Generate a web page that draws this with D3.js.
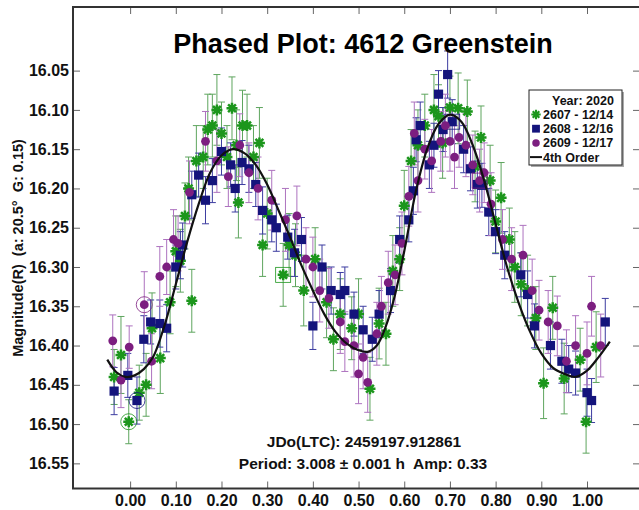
<!DOCTYPE html>
<html>
<head>
<meta charset="utf-8">
<script src="https://cdnjs.cloudflare.com/ajax/libs/d3/7.8.5/d3.min.js"></script>
<style>
  body { margin: 0; background: #fff; }
  svg { display: block; font-family: "Liberation Sans", Arial, sans-serif; font-weight: bold; }
</style>
</head>
<body>
<svg width="639" height="510"></svg>
<script>
// data: [phase, magnitude, error, mark]  (mark: 'o' ringed, 's' boxed)
var green = [
  [-0.035,16.440,0.035],[-0.020,16.412,0.049],[-0.003,16.497,0.028,'o'],[0.020,16.460,0.035],
  [0.035,16.450,0.040],[0.048,16.378,0.045],[0.066,16.416,0.045],[0.0875,16.345,0.040],
  [0.100,16.280,0.045],[0.110,16.292,0.040],[0.120,16.235,0.042],[0.128,16.200,0.040],
  [0.135,16.343,0.040],[0.145,16.165,0.045],[0.160,16.160,0.040],[0.170,16.125,0.045],
  [0.180,16.120,0.040],[0.190,16.100,0.045],[0.200,16.130,0.040],[0.212,16.160,0.040],
  [0.223,16.098,0.040],[0.233,16.145,0.045],[0.237,16.218,0.045],[0.246,16.120,0.045],
  [0.256,16.120,0.040],[0.270,16.160,0.040],[0.283,16.142,0.045],[0.290,16.272,0.040],
  [0.300,16.232,0.045],[0.335,16.310,0.040,'s'],[0.348,16.272,0.040],[0.362,16.285,0.040],
  [0.380,16.330,0.045],[0.405,16.290,0.040],[0.430,16.345,0.045],[0.445,16.392,0.040],
  [0.460,16.360,0.045],[0.485,16.378,0.040],[0.500,16.360,0.045],[0.525,16.455,0.040],
  [0.545,16.372,0.045],[0.560,16.385,0.040],[0.575,16.305,0.045],[0.590,16.290,0.040],
  [0.600,16.222,0.045],[0.615,16.165,0.040],[0.630,16.145,0.045],[0.645,16.120,0.040],
  [0.665,16.100,0.045],[0.675,16.108,0.040],[0.684,16.142,0.045],[0.700,16.097,0.040],
  [0.718,16.098,0.045],[0.738,16.102,0.040],[0.755,16.172,0.045],[0.768,16.135,0.040],
  [0.788,16.190,0.045],[0.800,16.242,0.040],[0.812,16.212,0.045],[0.830,16.265,0.040],
  [0.842,16.300,0.045],[0.856,16.322,0.040],[0.870,16.330,0.045],[0.888,16.365,0.040],
  [0.905,16.448,0.045],[0.925,16.352,0.040],[0.950,16.442,0.045],[0.985,16.418,0.040],
  [0.998,16.497,0.040],[1.020,16.402,0.045]
];
var navy = [
  [-0.035,16.458,0.030],[-0.005,16.438,0.028],[0.015,16.470,0.030,'o'],[0.030,16.392,0.030],
  [0.045,16.370,0.028],[0.065,16.372,0.030],[0.080,16.378,0.030],[0.100,16.300,0.028],
  [0.110,16.285,0.030],[0.115,16.272,0.028],[0.135,16.208,0.030],[0.150,16.183,0.028],
  [0.165,16.215,0.030],[0.180,16.190,0.028],[0.200,16.153,0.030],[0.220,16.170,0.028],
  [0.230,16.200,0.030],[0.245,16.167,0.028],[0.260,16.175,0.030],[0.275,16.195,0.028],
  [0.290,16.228,0.030],[0.310,16.240,0.028],[0.320,16.250,0.030],[0.345,16.262,0.028],
  [0.360,16.282,0.030],[0.375,16.265,0.028],[0.400,16.375,0.030],[0.420,16.300,0.028],
  [0.440,16.330,0.030],[0.460,16.335,0.028],[0.470,16.330,0.030],[0.490,16.360,0.028],
  [0.510,16.380,0.030],[0.530,16.392,0.028],[0.545,16.360,0.030],[0.570,16.330,0.028],
  [0.590,16.265,0.030],[0.610,16.240,0.028],[0.620,16.203,0.030],[0.626,16.138,0.028],
  [0.635,16.120,0.030],[0.655,16.170,0.030],[0.665,16.145,0.028],[0.675,16.080,0.030],
  [0.685,16.125,0.028],[0.695,16.055,0.030],[0.705,16.115,0.028,'s'],[0.730,16.150,0.030],
  [0.745,16.175,0.028],[0.760,16.195,0.030],[0.770,16.196,0.028],[0.785,16.230,0.030],
  [0.800,16.255,0.028],[0.820,16.285,0.030],[0.855,16.310,0.028],[0.870,16.335,0.030],
  [0.885,16.375,0.028],[0.920,16.400,0.030],[0.945,16.420,0.028],[0.960,16.430,0.030],
  [0.975,16.435,0.028],[1.000,16.460,0.030],[1.010,16.470,0.028],[1.040,16.370,0.030]
];
var purple = [
  [-0.038,16.394,0.033],[-0.020,16.444,0.035],[-0.002,16.402,0.027],[0.031,16.348,0.042,'o'],
  [0.047,16.420,0.035],[0.065,16.312,0.038],[0.080,16.300,0.035],[0.095,16.265,0.038],
  [0.105,16.270,0.035],[0.130,16.205,0.040],[0.165,16.140,0.038],[0.190,16.165,0.040],
  [0.215,16.185,0.038],[0.240,16.145,0.040],[0.260,16.180,0.038],[0.280,16.200,0.040],
  [0.310,16.215,0.038],[0.340,16.240,0.040],[0.365,16.235,0.038],[0.385,16.290,0.040],
  [0.400,16.300,0.038],[0.415,16.330,0.040],[0.435,16.340,0.038],[0.460,16.370,0.040],
  [0.470,16.395,0.038],[0.490,16.400,0.040],[0.500,16.436,0.038],[0.510,16.415,0.040],
  [0.520,16.447,0.038],[0.540,16.385,0.040],[0.550,16.350,0.038],[0.565,16.320,0.040],
  [0.580,16.310,0.038],[0.595,16.270,0.040],[0.610,16.210,0.038],[0.622,16.130,0.040],
  [0.630,16.190,0.040],[0.645,16.150,0.038],[0.660,16.165,0.040],[0.680,16.140,0.038],
  [0.690,16.120,0.040],[0.700,16.140,0.038],[0.710,16.160,0.040],[0.720,16.135,0.038],
  [0.735,16.145,0.040],[0.750,16.170,0.038],[0.765,16.190,0.040,'s'],[0.775,16.180,0.038],
  [0.790,16.220,0.040],[0.815,16.265,0.038],[0.835,16.290,0.040],[0.860,16.285,0.038],
  [0.880,16.330,0.040],[0.895,16.355,0.038],[0.915,16.370,0.040],[0.935,16.375,0.038],
  [0.955,16.420,0.040],[0.975,16.400,0.038],[1.000,16.410,0.040],[1.010,16.350,0.038],
  [1.030,16.400,0.040]
];
// 4th order fit
var fit = [
  [-0.05,16.418],[-0.03,16.434],[-0.01,16.440],[0.01,16.438],[0.03,16.430],[0.05,16.415],
  [0.075,16.375],[0.10,16.322],[0.125,16.268],[0.15,16.220],[0.175,16.180],[0.20,16.158],
  [0.225,16.150],[0.25,16.155],[0.275,16.170],[0.30,16.195],[0.325,16.228],[0.35,16.262],
  [0.375,16.298],[0.40,16.330],[0.425,16.360],[0.45,16.383],[0.475,16.398],[0.50,16.406],
  [0.52,16.408],[0.54,16.400],[0.56,16.375],[0.58,16.335],[0.60,16.280],[0.625,16.205],
  [0.65,16.150],[0.675,16.118],[0.70,16.106],[0.725,16.115],[0.75,16.145],[0.775,16.190],
  [0.80,16.245],[0.825,16.300],[0.85,16.345],[0.875,16.382],[0.90,16.410],[0.925,16.428],
  [0.95,16.436],[0.975,16.440],[1.00,16.432],[1.025,16.415],[1.05,16.395]
];
var xTicks = d3.range(0, 11).map(function (i) { return i / 10; });
var yTicks = d3.range(0, 11).map(function (i) { return 16.05 + i * 0.05; });
var legendLabels = ["2607 - 12/14", "2608 - 12/16", "2609 - 12/17", "4th Order"];

var svg = d3.select("svg");
var plotL = 73, plotR = 640, plotT = 7, plotB = 488.5;

var x = d3.scaleLinear().domain([-0.125, 1.116]).range([plotL, plotR]);
var y = d3.scaleLinear().domain([15.969, 16.582]).range([plotT, plotB]);

var series = [
  { data: green, mark: "#1c961c", bar: "#5ea55e", shape: "star" },
  { data: navy, mark: "#14147c", bar: "#3c3ca0", shape: "square" },
  { data: purple, mark: "#7c1e80", bar: "#ad72bf", shape: "circle" }
];

var starPath = "M-5.5,0L5.5,0M0,-5.5L0,5.5M-3.9,-3.9L3.9,3.9M-3.9,3.9L3.9,-3.9";

function drawMark(g, shape, color) {
  if (shape == "star") {
    g.append("path").attr("d", starPath).attr("stroke", color).attr("stroke-width", 2.5).attr("fill", "none");
  } else if (shape == "square") {
    g.append("rect").attr("x", -4.6).attr("y", -4.6).attr("width", 9.2).attr("height", 9.2).attr("fill", color);
  } else {
    g.append("circle").attr("r", 4.4).attr("fill", color);
  }
}

// error bars first
series.forEach(function (s) {
  var eb = svg.append("g").attr("stroke", s.bar).attr("stroke-width", 1).attr("fill", "none");
  s.data.forEach(function (d) {
    var px = x(d[0]), y0 = y(d[1] - d[2]), y1 = y(d[1] + d[2]);
    eb.append("line").attr("x1", px).attr("x2", px).attr("y1", y0).attr("y2", y1);
    eb.append("line").attr("x1", px - 3.5).attr("x2", px + 3.5).attr("y1", y0).attr("y2", y0);
    eb.append("line").attr("x1", px - 3.5).attr("x2", px + 3.5).attr("y1", y1).attr("y2", y1);
  });
});

// markers
series.forEach(function (s) {
  s.data.forEach(function (d) {
    var g = svg.append("g").attr("transform", "translate(" + x(d[0]) + "," + y(d[1]) + ")");
    drawMark(g, s.shape, s.mark);
    if (d[3] == "o") {
      g.append("circle").attr("r", 8).attr("fill", "none").attr("stroke", s.mark).attr("stroke-width", 0.8);
    } else if (d[3] == "s") {
      g.append("rect").attr("x", -7.5).attr("y", -7.5).attr("width", 15).attr("height", 15)
        .attr("fill", "none").attr("stroke", s.mark).attr("stroke-width", 0.8);
    }
  });
});

// fit curve
svg.append("path")
  .datum(fit)
  .attr("fill", "none")
  .attr("stroke", "#111")
  .attr("stroke-width", 2.2)
  .attr("d", d3.line().curve(d3.curveCatmullRom)
    .x(function (d) { return x(d[0]); })
    .y(function (d) { return y(d[1]); }));

// axes (ticks inside the frame)
var fmt = d3.format(".2f");
svg.append("g")
  .attr("transform", "translate(" + plotL + ",0)")
  .call(d3.axisLeft(y).tickValues(yTicks).tickFormat(fmt).tickSize(-7).tickPadding(4))
  .call(function (g) { g.select(".domain").remove(); });
svg.append("g")
  .attr("transform", "translate(" + plotR + ",0)")
  .call(d3.axisRight(y).tickValues(yTicks).tickFormat("").tickSize(-7))
  .call(function (g) { g.select(".domain").remove(); });
svg.append("g")
  .attr("transform", "translate(0," + plotB + ")")
  .call(d3.axisBottom(x).tickValues(xTicks).tickFormat(fmt).tickSize(-7).tickPadding(6))
  .call(function (g) { g.select(".domain").remove(); });
svg.append("g")
  .attr("transform", "translate(0," + plotT + ")")
  .call(d3.axisTop(x).tickValues(xTicks).tickFormat("").tickSize(-7))
  .call(function (g) { g.select(".domain").remove(); });

svg.selectAll(".tick line").attr("stroke", "#666");
svg.selectAll(".tick text")
  .attr("font-family", "Liberation Sans, Arial, sans-serif")
  .attr("font-weight", "bold")
  .attr("font-size", "16px")
  .attr("fill", "#111");

// frame
svg.append("rect")
  .attr("x", plotL).attr("y", plotT)
  .attr("width", plotR - plotL).attr("height", plotB - plotT)
  .attr("fill", "none").attr("stroke", "#333").attr("stroke-width", 2);

// title and notes
svg.append("text").attr("x", 363).attr("y", 53)
  .attr("text-anchor", "middle").attr("font-size", "27px").attr("fill", "#000")
  .text("Phased Plot: 4612 Greenstein");
svg.append("text").attr("x", 364).attr("y", 447)
  .attr("text-anchor", "middle").attr("font-size", "15.5px").attr("fill", "#111")
  .text("JDo(LTC): 2459197.912861");
svg.append("text").attr("x", 363).attr("y", 469)
  .attr("text-anchor", "middle").attr("font-size", "15.5px").attr("fill", "#111")
  .attr("xml:space", "preserve")
  .text("Period: 3.008 \u00b1 0.001 h  Amp: 0.33");

svg.append("text")
  .attr("transform", "translate(23,248) rotate(-90)")
  .attr("text-anchor", "middle").attr("font-size", "14.5px").attr("fill", "#111")
  .attr("xml:space", "preserve")
  .text("Magnitude(R)  (a: 20.5\u00b0  G: 0.15)");

// legend
var lg = svg.append("g").attr("transform", "translate(529,90)");
lg.append("rect").attr("x", 2).attr("y", 2).attr("width", 93).attr("height", 75).attr("fill", "#aaa");
lg.append("rect").attr("width", 93).attr("height", 75).attr("fill", "#fff").attr("stroke", "#222").attr("stroke-width", 1);
lg.append("text").attr("x", 23).attr("y", 15).attr("font-size", "12.5px").attr("fill", "#111").text("Year: 2020");
legendLabels.forEach(function (lab, i) {
  var yy = 29 + i * 14.2;
  var g = lg.append("g").attr("transform", "translate(7," + (yy - 4.5) + ")");
  if (i < 3) {
    drawMark(g, series[i].shape, series[i].mark);
    g.attr("transform", "translate(7," + (yy - 4.5) + ") scale(0.85)");
  } else {
    lg.append("line").attr("x1", 1).attr("x2", 13).attr("y1", yy - 4.5).attr("y2", yy - 4.5)
      .attr("stroke", "#111").attr("stroke-width", 2);
  }
  lg.append("text").attr("x", 14).attr("y", yy).attr("font-size", "12.5px").attr("fill", "#111").text(lab);
});
</script>
</body>
</html>
